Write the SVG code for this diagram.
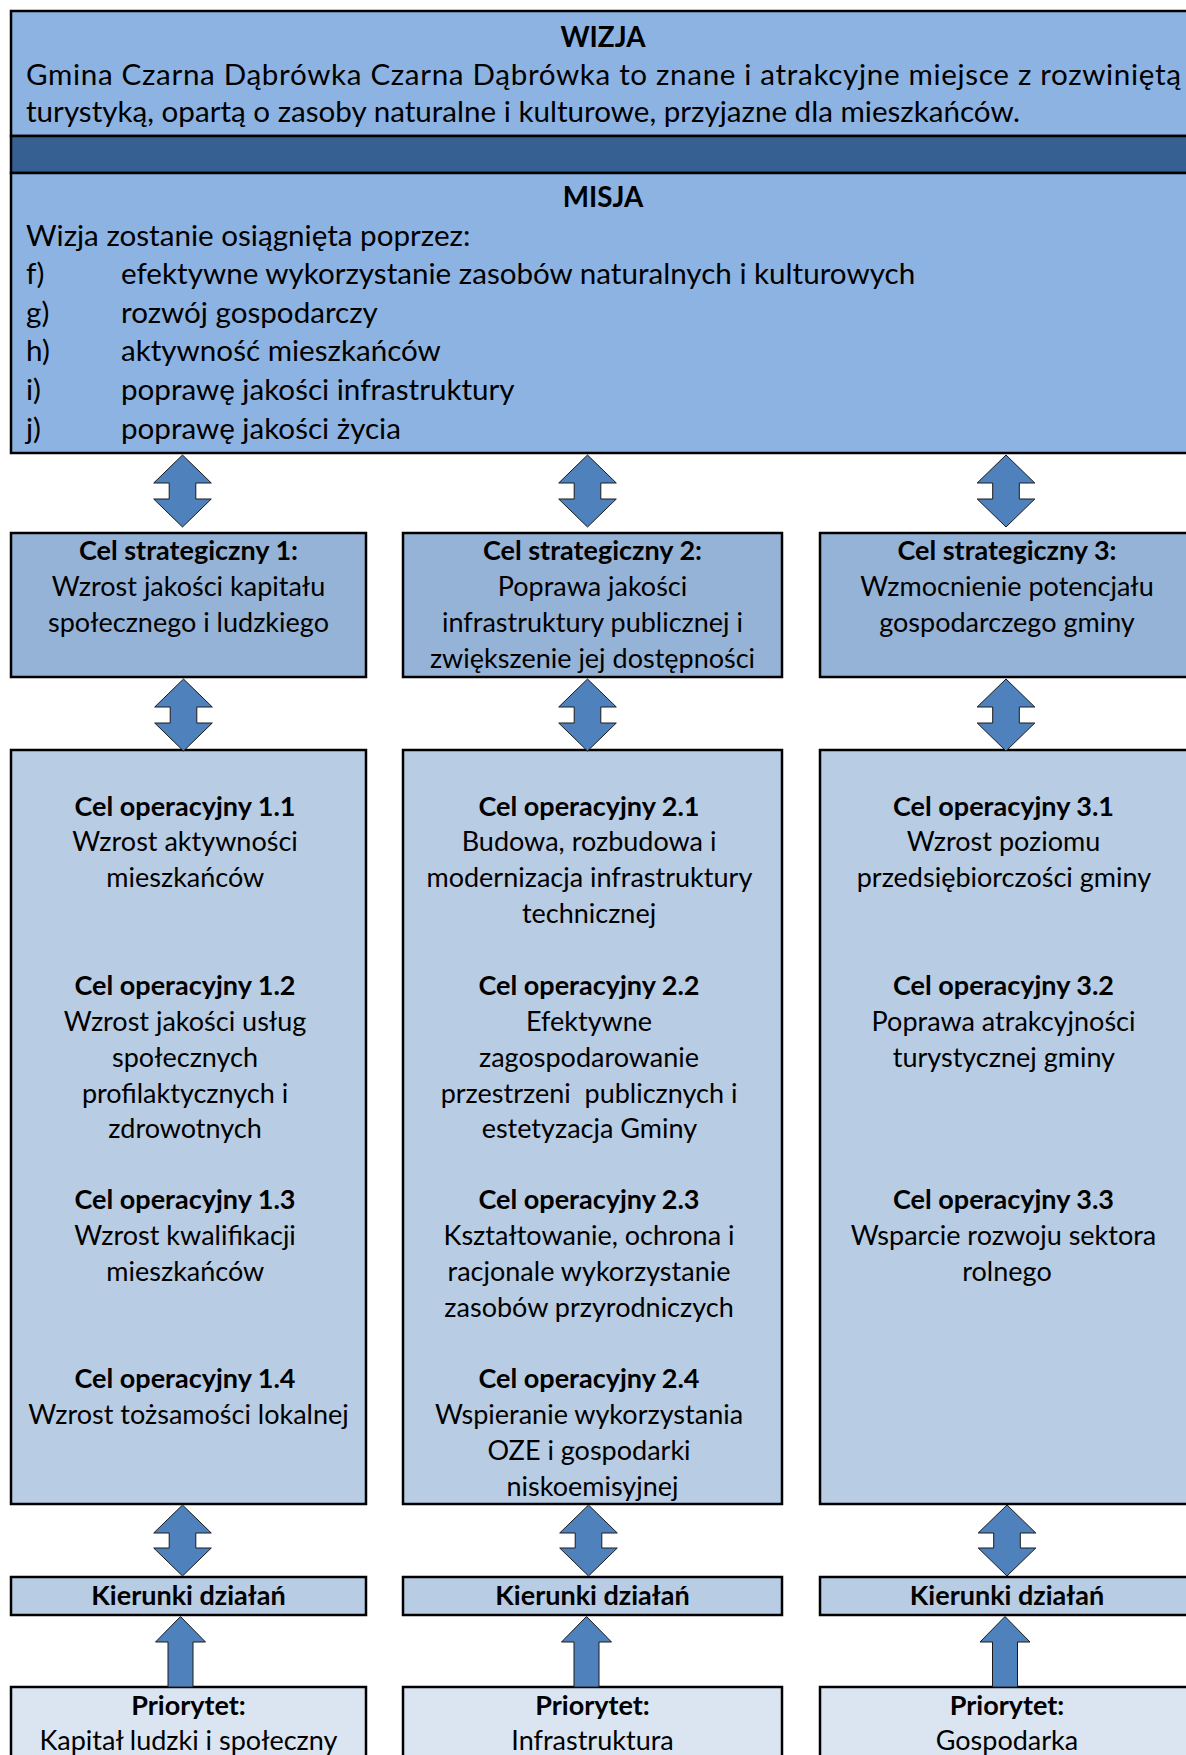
<svg xmlns="http://www.w3.org/2000/svg" width="1186" height="1755" viewBox="0 0 1186 1755">
<defs>
<style>
text{font-family:Lato,"Liberation Sans",sans-serif;font-size:27px;fill:#000}
.t{font-size:29.6px}
.h{font-size:27.8px}
.b{font-weight:bold}
.c{text-anchor:middle}
.box{stroke:#000;stroke-width:2.5}
.top{fill:#8DB3E2}
.dark{fill:#366092}
.str{fill:#95B3D7}
.op{fill:#B8CCE4}
.pr{fill:#DBE5F1}
.arr{fill:#4F81BD;stroke:#1a1a1a;stroke-width:1}
</style>
</defs>
<rect width="1186" height="1755" fill="#fff"/>

<g id="wizja">
<rect class="box top" x="11" y="11" width="1200" height="125"/>
<text class="b c h" x="603" y="47">WIZJA</text>
<text class="t" x="26" y="85" textLength="1155" lengthAdjust="spacing">Gmina Czarna Dąbrówka Czarna Dąbrówka to znane i atrakcyjne miejsce z rozwiniętą</text>
<text class="t" x="26" y="122">turystyką, opartą o zasoby naturalne i kulturowe, przyjazne dla mieszkańców.</text>
</g>
<g id="band"><rect class="box dark" x="11" y="136" width="1200" height="37"/></g>
<g id="misja">
<rect class="box top" x="11" y="173" width="1200" height="280"/>
<text class="b c h" x="603" y="207">MISJA</text>
<text class="t" x="26" y="246">Wizja zostanie osiągnięta poprzez:</text>
<text class="t" x="26" y="284">f)</text><text class="t" x="121" y="284">efektywne wykorzystanie zasobów naturalnych i kulturowych</text>
<text class="t" x="26" y="323">g)</text><text class="t" x="121" y="323">rozwój gospodarczy</text>
<text class="t" x="26" y="361">h)</text><text class="t" x="121" y="361">aktywność mieszkańców</text>
<text class="t" x="26" y="400">i)</text><text class="t" x="121" y="400">poprawę jakości infrastruktury</text>
<text class="t" x="26" y="439">j)</text><text class="t" x="121" y="439">poprawę jakości życia</text>
</g>

<g id="cs1">
<rect class="box str" x="11" y="533" width="355" height="144"/>
<text class="c" x="188.5"><tspan class="b" x="188.5" y="560">Cel strategiczny 1:</tspan><tspan x="188.5" y="596">Wzrost jakości kapitału</tspan><tspan x="188.5" y="632">społecznego i ludzkiego</tspan></text>
</g>
<g id="cs2">
<rect class="box str" x="403" y="533" width="379" height="144"/>
<text class="c" x="592.5"><tspan class="b" x="592.5" y="560">Cel strategiczny 2:</tspan><tspan x="592.5" y="596">Poprawa jakości</tspan><tspan x="592.5" y="632">infrastruktury publicznej i</tspan><tspan x="592.5" y="668">zwiększenie jej dostępności</tspan></text>
</g>
<g id="cs3">
<rect class="box str" x="820" y="533" width="380" height="144"/>
<text class="c" x="1007"><tspan class="b" x="1007" y="560">Cel strategiczny 3:</tspan><tspan x="1007" y="596">Wzmocnienie potencjału</tspan><tspan x="1007" y="632">gospodarczego gminy</tspan></text>
</g>

<g id="co1">
<rect class="box op" x="11" y="750" width="355" height="754"/>
<text class="c">
<tspan class="b" x="188.5" y="816">Cel operacyjny 1.1</tspan>
<tspan x="188.5" y="851">Wzrost aktywności</tspan>
<tspan x="188.5" y="887">mieszkańców</tspan>
<tspan class="b" x="188.5" y="995">Cel operacyjny 1.2</tspan>
<tspan x="188.5" y="1031">Wzrost jakości usług</tspan>
<tspan x="188.5" y="1067">społecznych</tspan>
<tspan x="188.5" y="1103">profilaktycznych i</tspan>
<tspan x="188.5" y="1138">zdrowotnych</tspan>
<tspan class="b" x="188.5" y="1209">Cel operacyjny 1.3</tspan>
<tspan x="188.5" y="1245">Wzrost kwalifikacji</tspan>
<tspan x="188.5" y="1281">mieszkańców</tspan>
<tspan class="b" x="188.5" y="1388">Cel operacyjny 1.4</tspan>
<tspan x="188.5" y="1424">Wzrost tożsamości lokalnej</tspan>
</text>
</g>
<g id="co2">
<rect class="box op" x="403" y="750" width="379" height="754"/>
<text class="c">
<tspan class="b" x="592.5" y="816">Cel operacyjny 2.1</tspan>
<tspan x="592.5" y="851">Budowa, rozbudowa i</tspan>
<tspan x="592.5" y="887">modernizacja infrastruktury</tspan>
<tspan x="592.5" y="923">technicznej</tspan>
<tspan class="b" x="592.5" y="995">Cel operacyjny 2.2</tspan>
<tspan x="592.5" y="1031">Efektywne</tspan>
<tspan x="592.5" y="1067">zagospodarowanie</tspan>
<tspan x="592.5" y="1103">przestrzeni&#160; publicznych i</tspan>
<tspan x="592.5" y="1138">estetyzacja Gminy</tspan>
<tspan class="b" x="592.5" y="1209">Cel operacyjny 2.3</tspan>
<tspan x="592.5" y="1245">Kształtowanie, ochrona i</tspan>
<tspan x="592.5" y="1281">racjonale wykorzystanie</tspan>
<tspan x="592.5" y="1317">zasobów przyrodniczych</tspan>
<tspan class="b" x="592.5" y="1388">Cel operacyjny 2.4</tspan>
<tspan x="592.5" y="1424">Wspieranie wykorzystania</tspan>
<tspan x="592.5" y="1460">OZE i gospodarki</tspan>
<tspan x="592.5" y="1496">niskoemisyjnej</tspan>
</text>
</g>
<g id="co3">
<rect class="box op" x="820" y="750" width="380" height="754"/>
<text class="c">
<tspan class="b" x="1007" y="816">Cel operacyjny 3.1</tspan>
<tspan x="1007" y="851">Wzrost poziomu</tspan>
<tspan x="1007" y="887">przedsiębiorczości gminy</tspan>
<tspan class="b" x="1007" y="995">Cel operacyjny 3.2</tspan>
<tspan x="1007" y="1031">Poprawa atrakcyjności</tspan>
<tspan x="1007" y="1067">turystycznej gminy</tspan>
<tspan class="b" x="1007" y="1209">Cel operacyjny 3.3</tspan>
<tspan x="1007" y="1245">Wsparcie rozwoju sektora</tspan>
<tspan x="1007" y="1281">rolnego</tspan>
</text>
</g>

<g id="kd1"><rect class="box op" x="11" y="1577" width="355" height="38"/><text class="b c" x="188.5" y="1605">Kierunki działań</text></g>
<g id="kd2"><rect class="box op" x="403" y="1577" width="379" height="38"/><text class="b c" x="592.5" y="1605">Kierunki działań</text></g>
<g id="kd3"><rect class="box op" x="820" y="1577" width="380" height="38"/><text class="b c" x="1007" y="1605">Kierunki działań</text></g>

<g id="pr1"><rect class="box pr" x="11" y="1687" width="355" height="90"/><text class="c"><tspan class="b" x="188.5" y="1715">Priorytet:</tspan><tspan x="188.5" y="1750">Kapitał ludzki i społeczny</tspan></text></g>
<g id="pr2"><rect class="box pr" x="403" y="1687" width="379" height="90"/><text class="c"><tspan class="b" x="592.5" y="1715">Priorytet:</tspan><tspan x="592.5" y="1750">Infrastruktura</tspan></text></g>
<g id="pr3"><rect class="box pr" x="820" y="1687" width="380" height="90"/><text class="c"><tspan class="b" x="1007" y="1715">Priorytet:</tspan><tspan x="1007" y="1750">Gospodarka</tspan></text></g>

<g id="connectors">
<path class="arr" d="M182.5,455 L211.3,483 L195.8,483 L195.8,499 L211.3,499 L182.5,527 L153.7,499 L169.2,499 L169.2,483 L153.7,483 Z"/>
<path class="arr" d="M587.5,455 L616.3,483 L600.8,483 L600.8,499 L616.3,499 L587.5,527 L558.7,499 L574.2,499 L574.2,483 L558.7,483 Z"/>
<path class="arr" d="M1006,455 L1034.8,483 L1019.3,483 L1019.3,499 L1034.8,499 L1006,527 L977.2,499 L992.7,499 L992.7,483 L977.2,483 Z"/>
<path class="arr" d="M183.5,679 L212.3,707 L196.8,707 L196.8,723 L212.3,723 L183.5,751 L154.7,723 L170.2,723 L170.2,707 L154.7,707 Z"/>
<path class="arr" d="M587.5,679 L616.3,707 L600.8,707 L600.8,723 L616.3,723 L587.5,751 L558.7,723 L574.2,723 L574.2,707 L558.7,707 Z"/>
<path class="arr" d="M1006,679 L1034.8,707 L1019.3,707 L1019.3,723 L1034.8,723 L1006,751 L977.2,723 L992.7,723 L992.7,707 L977.2,707 Z"/>
<path class="arr" d="M182.5,1505 L211.3,1533 L195.8,1533 L195.8,1548 L211.3,1548 L182.5,1576 L153.7,1548 L169.2,1548 L169.2,1533 L153.7,1533 Z"/>
<path class="arr" d="M588.5,1505 L617.3,1533 L601.8,1533 L601.8,1548 L617.3,1548 L588.5,1576 L559.7,1548 L575.2,1548 L575.2,1533 L559.7,1533 Z"/>
<path class="arr" d="M1007,1505 L1035.8,1533 L1020.3,1533 L1020.3,1548 L1035.8,1548 L1007,1576 L978.2,1548 L993.7,1548 L993.7,1533 L978.2,1533 Z"/>
<path class="arr" d="M180.5,1616.5 L205.5,1642 L193,1642 L193,1687 L168,1687 L168,1642 L155.5,1642 Z"/>
<path class="arr" d="M586.5,1616.5 L611.5,1642 L599,1642 L599,1687 L574,1687 L574,1642 L561.5,1642 Z"/>
<path class="arr" d="M1005,1616.5 L1030,1642 L1017.5,1642 L1017.5,1687 L992.5,1687 L992.5,1642 L980,1642 Z"/>
</g>
</svg>
